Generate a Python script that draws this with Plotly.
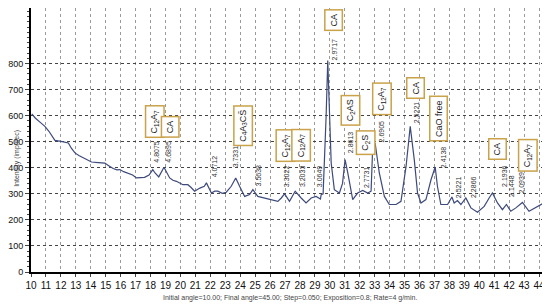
import plotly.graph_objects as go

# 2-theta (deg) and intensity (imp/sec)
two_theta = [10.05, 10.3, 10.6, 10.93, 11.2, 11.4, 11.6, 12.0, 12.5, 12.7, 12.94, 13.2, 13.5,
             13.8, 14.05, 14.5, 14.94, 15.2, 15.5, 15.75, 15.95, 16.2, 16.5, 16.8, 17.06, 17.3,
             17.6, 17.9, 18.15, 18.3, 18.55, 18.9, 19.28, 19.5, 19.73, 20.17, 20.5, 20.7, 20.95,
             21.3, 21.6, 21.74, 22.07, 22.3, 22.5, 22.8, 23.07, 23.4, 23.7, 23.96, 24.3, 24.63,
             24.85, 25.18, 25.63, 25.9, 26.19, 26.52, 26.75, 26.97, 27.3, 27.68, 28.08, 28.41,
             28.75, 29.08, 29.37, 29.42, 29.55, 29.64, 29.75, 29.86, 29.97, 30.09, 30.3, 30.64,
             30.85, 31.02, 31.2, 31.53, 31.86, 32.2, 32.53, 32.76, 32.87, 33.03, 33.31, 33.65,
             33.98, 34.43, 34.76, 34.9, 35.1, 35.38, 35.65, 35.87, 36.1, 36.43, 36.77, 37.05,
             37.2, 37.43, 37.88, 38.17, 38.32, 38.54, 38.77, 39.1, 39.44, 39.88, 40.33, 40.66,
             40.88, 41.22, 41.55, 41.82, 42.11, 42.45, 42.89, 43.33, 43.77, 44.33]
intensity = [607, 590, 575, 559, 540, 520, 505, 501, 495, 475, 457, 447, 437,
             428, 422, 420, 418, 408, 397, 392, 393, 385, 380, 372, 361, 362,
             363, 372, 393, 380, 365, 402, 361, 352, 348, 335, 335, 325, 310,
             322, 329, 342, 303, 310, 310, 302, 306, 329, 361, 329, 290, 297,
             316, 290, 284, 280, 278, 271, 284, 300, 271, 310, 284, 265,
             284, 290, 280, 297, 300, 418, 597, 811, 597, 418, 316, 303,
             340, 431, 380, 278, 303, 313, 303, 310, 482, 495, 380, 290,
             259, 259, 271, 320, 405, 559, 431, 303, 265, 278, 354, 403,
             329, 259, 259, 288, 265, 274, 259, 284, 246, 229, 252, 284,
             303, 265, 239, 259, 233, 246, 267, 233, 246, 265]

# phase labels (boxed)
phase_text = ["C<sub>12</sub>A<sub>7</sub>", "CA", "C<sub>4</sub>A<sub>3</sub>CS\u0304",
              "C<sub>12</sub>A<sub>7</sub>", "C<sub>12</sub>A<sub>7</sub>", "CA",
              "C<sub>2</sub>AS", "C<sub>2</sub>S", "C<sub>12</sub>A<sub>7</sub>", "CA",
              "CaO free", "CA", "C<sub>12</sub>A<sub>7</sub>"]
phase_x = [18.26, 19.32, 24.2, 27.05, 28.1, 30.25, 31.36, 32.38, 33.5, 35.7, 37.29, 41.22, 43.25]
phase_y = [577, 558, 560, 486, 486, 965, 619, 496, 663, 706, 588, 470, 449]

# d-spacing labels
d_text = ["4.8075", "4.6895", "4.0712", "3.7331", "3.5638", "3.3022", "3.2033", "3.0649",
          "2.9717", "2.8613", "2.7731", "2.6905", "2.5221", "2.4138", "2.5221", "2.2866",
          "2.1936", "2.1448", "2.0939"]
d_x = [18.42, 19.22, 22.29, 23.69, 25.23, 27.1, 28.17, 29.31, 30.31, 31.38, 32.45, 33.45,
       35.85, 37.6, 38.6, 39.66, 41.73, 42.2, 42.86]
d_y = [461, 461, 404, 442, 369, 366, 366, 366, 856, 500, 366, 541, 614, 442, 327, 327,
       369, 331, 343]

fig = go.Figure(go.Scatter(x=two_theta, y=intensity, mode="lines",
                           line=dict(color="#3d4a7c", width=1.2), hoverinfo="skip"))

for t, x, y in zip(phase_text, phase_x, phase_y):
    fig.add_annotation(x=x, y=y, text=t, textangle=-90, showarrow=False,
                       font=dict(size=9, color="#222"), bgcolor="white",
                       bordercolor="#c9a24a", borderwidth=1.5, borderpad=3)

for t, x, y in zip(d_text, d_x, d_y):
    fig.add_annotation(x=x, y=y, text=t, textangle=-90, showarrow=False,
                       font=dict(size=7, color="#333"))

# axis titles placed by hand
fig.add_annotation(xref="paper", yref="paper", x=-0.038, y=0.43, text="Intensity (imp/sec)",
                   textangle=-90, showarrow=False, font=dict(size=7, color="#444"))
fig.add_annotation(xref="paper", yref="paper", x=0.5, y=-0.098, yanchor="middle",
                   text="Initial angle=10.00; Final angle=45.00; Step=0.050; Exposition=0.8; Rate=4 g/min.",
                   showarrow=False, font=dict(size=7, color="#444"))

# page body adds an 8px margin, so the figure is a bit smaller than the window
fig.update_layout(
    width=542, height=298, margin=dict(l=23, r=2, t=0, b=34),
    plot_bgcolor="white", paper_bgcolor="white", showlegend=False,
    font=dict(family="Liberation Sans, Arial", color="#111"),
)
fig.update_xaxes(range=[10, 44.6], tick0=10, dtick=1, showline=True, linecolor="black",
                 linewidth=2, ticks="outside", ticklen=3, tickfont=dict(size=10),
                 showgrid=True, gridcolor="#9a9a9a", griddash="dot", gridwidth=1,
                 zeroline=False, automargin=False)
fig.update_yaxes(range=[0, 1013], tickvals=list(range(0, 801, 100)), showline=True,
                 linecolor="black", linewidth=2, ticks="outside", ticklen=4,
                 tickfont=dict(size=9), showgrid=True, gridcolor="#444",
                 griddash="3px,3px", gridwidth=1.3, zeroline=False, automargin=False,
                 minor=dict(ticks="outside", ticklen=2, dtick=20, tick0=0, showgrid=False))

fig.write_html("out.html")
